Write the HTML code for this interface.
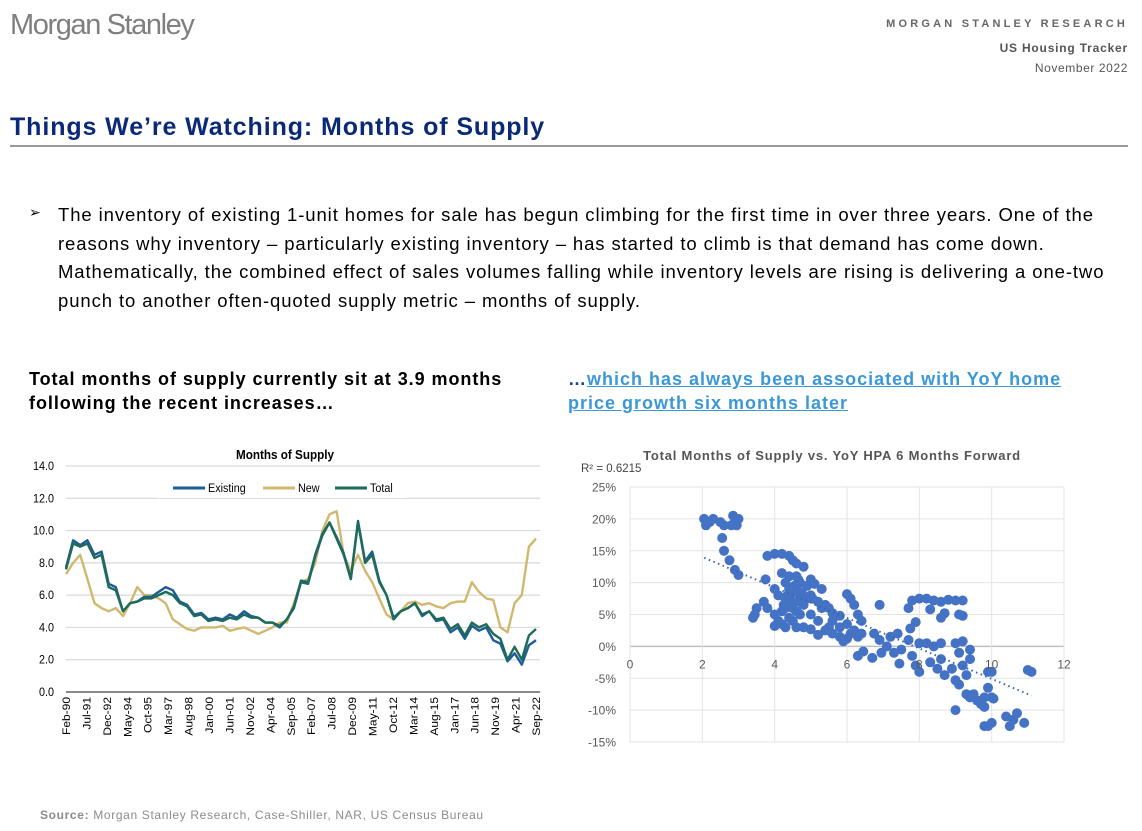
<!DOCTYPE html>
<html><head><meta charset="utf-8">
<style>
body{margin:0;width:1142px;height:831px;background:#fff;position:relative;overflow:hidden;font-family:"Liberation Sans",sans-serif;}
.abs{position:absolute;}
</style></head>
<body>
<div class="abs" style="left:10px;top:9px;font-size:29px;color:#7f7f7f;letter-spacing:-1.4px;">Morgan Stanley</div>
<div class="abs" style="right:14px;top:18px;font-size:11px;font-weight:bold;color:#666;letter-spacing:3.2px;">MORGAN STANLEY RESEARCH</div>
<div class="abs" style="right:14px;top:41px;font-size:12px;font-weight:bold;color:#555;letter-spacing:0.8px;">US Housing Tracker</div>
<div class="abs" style="right:14px;top:61px;font-size:12px;color:#555;letter-spacing:0.6px;">November 2022</div>
<div class="abs" style="left:10px;top:113px;font-size:25px;font-weight:bold;color:#0a2a78;letter-spacing:0.9px;">Things We’re Watching: Months of Supply</div>
<div class="abs" style="left:10px;top:145px;width:1118px;height:2px;background:#999;"></div>
<div class="abs" style="left:29px;top:204px;font-size:14px;color:#000;">➢</div>
<div class="abs" style="left:58px;top:201px;width:1080px;white-space:nowrap;font-size:18.5px;letter-spacing:0.9px;line-height:28.6px;color:#000;">The inventory of existing 1-unit homes for sale has begun climbing for the first time in over three years. One of the<br>reasons why inventory – particularly existing inventory – has started to climb is that demand has come down.<br>Mathematically, the combined effect of sales volumes falling while inventory levels are rising is delivering a one-two<br>punch to another often-quoted supply metric – months of supply.</div>
<div class="abs" style="left:29px;top:367px;font-size:18px;font-weight:bold;line-height:24px;color:#000;letter-spacing:0.95px;">Total months of supply currently sit at 3.9 months<br>following the recent increases…</div>
<div class="abs" style="left:568px;top:367px;font-size:18px;font-weight:bold;line-height:24px;color:#3a98d8;letter-spacing:1px;"><span style="color:#1f3f8f">…</span><u>which has always been associated with YoY home<br>price growth six months later</u></div>
<div class="abs" style="left:40px;top:808px;font-size:12px;color:#8c8c8c;letter-spacing:0.65px;"><b>Source:</b> Morgan Stanley Research, Case-Shiller, NAR, US Census Bureau</div>

<svg class="abs" style="left:0;top:0" width="1142" height="831" id="charts">
<g id="left"></g>
<g id="right"></g>
</svg>

<script>
const NS="http://www.w3.org/2000/svg";
// ---- Left chart data (semiannual samples, Feb-90 .. Sep-22) ----
const total=[7.6,9.2,9.0,9.2,8.3,8.5,6.5,6.3,5.0,5.5,5.6,5.8,5.8,6.0,6.2,6.0,5.5,5.3,4.7,4.8,4.4,4.5,4.4,4.6,4.5,4.8,4.6,4.6,4.3,4.3,4.1,4.5,5.3,6.9,6.8,8.5,9.8,10.5,9.5,8.5,7.0,10.5,8.0,8.5,6.8,6.0,4.5,5.0,5.2,5.5,4.8,5.0,4.5,4.6,3.9,4.2,3.5,4.3,4.0,4.2,3.6,3.3,2.0,2.8,2.0,3.5,3.9];
const existing=[7.7,9.4,9.1,9.4,8.5,8.7,6.7,6.5,5.0,5.5,5.6,5.9,5.9,6.2,6.5,6.3,5.6,5.4,4.8,4.9,4.5,4.6,4.5,4.8,4.6,5.0,4.7,4.6,4.3,4.3,4.0,4.5,5.2,6.8,6.7,8.4,9.7,10.5,9.6,8.6,7.0,10.6,8.1,8.7,6.9,6.0,4.6,5.0,5.2,5.5,4.7,5.0,4.4,4.5,3.7,4.0,3.3,4.1,3.8,4.0,3.2,3.0,1.9,2.4,1.7,2.9,3.2];
const newHomes=[7.3,8.0,8.5,7.0,5.5,5.2,5.0,5.2,4.7,5.5,6.5,6.0,6.0,5.8,5.5,4.5,4.2,3.9,3.8,4.0,4.0,4.0,4.1,3.8,3.9,4.0,3.8,3.6,3.8,4.0,4.3,4.3,5.5,6.8,7.0,8.0,10.0,11.0,11.2,8.5,7.5,8.5,7.5,6.8,5.8,4.8,4.5,5.0,5.5,5.6,5.4,5.5,5.3,5.2,5.5,5.6,5.6,6.8,6.2,5.8,5.7,4.0,3.7,5.5,6.0,9.0,9.5];
const xLabels=["Feb-90","Jul-91","Dec-92","May-94","Oct-95","Mar-97","Aug-98","Jan-00","Jun-01","Nov-02","Apr-04","Sep-05","Feb-07","Jul-08","Dec-09","May-11","Oct-12","Mar-14","Aug-15","Jan-17","Jun-18","Nov-19","Apr-21","Sep-22"];
const yTicks=[0,2,4,6,8,10,12,14];
// ---- Right chart data ----
const supply=[2.05,2.1,2.2,2.3,2.5,2.6,2.8,2.85,2.9,3.0,2.95,2.55,2.6,2.75,2.9,3.0,3.4,3.5,3.45,3.7,3.8,3.75,3.8,4.0,4.2,4.4,4.5,4.6,4.2,4.8,4.0,4.1,4.3,4.4,4.6,4.7,4.5,4.3,4.0,4.1,4.0,4.2,4.4,4.6,4.8,4.9,5.0,5.1,5.3,4.8,4.7,5.0,5.2,5.4,5.5,5.6,5.8,5.0,5.2,5.4,5.6,5.8,6.0,6.0,6.2,6.3,6.0,6.1,6.2,6.3,6.4,6.4,6.3,6.45,6.7,6.75,6.9,6.9,6.95,7.1,7.2,7.3,7.4,7.45,7.5,7.7,7.7,7.75,7.8,8.0,8.2,8.4,8.6,8.8,9.0,9.2,7.9,8.3,8.6,8.7,9.1,9.2,7.8,7.9,8.0,8.0,8.2,8.4,8.6,8.6,8.3,8.5,8.7,8.9,9.0,9.0,9.1,9.1,9.2,9.2,9.3,9.3,9.4,9.5,9.6,9.7,9.8,9.0,9.4,9.4,9.9,9.9,10.0,9.8,10.0,10.05,9.8,9.9,10.0,10.4,10.5,10.6,10.7,10.9,11.0,11.1,4.3,4.5,4.7,4.9,4.2,4.5,4.6,4.3,4.5,4.4,4.6,4.7,5.0,5.2,5.6,5.8,5.5,6.1,5.9,4.35,4.55,4.65,4.25,4.75,5.05,5.3];
const hpa=[20,19,19.5,20,19.5,19,19,20.5,19.5,20,19,17,15,13.5,12,11.2,4.5,6,5,7,6,10.5,14.2,14.5,14.5,14.2,13.5,13,11.5,12.5,9,8,10,9,9.5,8,7,6,5,4,3.2,3.5,4.5,5.5,6.5,9.5,10.5,9.8,9,3,5,5,4,6.5,6,5.2,4.8,2.7,1.8,2.5,2,1.5,1.2,3.5,2.5,1.5,8.2,7.5,6.5,5,4,2,-1.5,-0.8,-1.8,2,6.5,1,-1,0,1.5,-1,2,-2.7,-0.5,1,6,2.8,7.2,7.5,7.5,7.2,7,7.3,7.2,7.2,3.8,5.8,4.5,5.2,5,4.8,-1.5,-3,-4,0.5,0.5,0,0.5,-2,-2.5,-3.5,-4.5,-3.5,-5.3,0.5,-1,-6,-3,0.8,-4.5,-7.5,-8,-7.5,-8.5,-9,-9.5,-10,-0.5,-2,-6.5,-4,-4,-8,-8,-8.2,-12.5,-12.5,-12,-11,-12.5,-11.5,-10.5,-12,-3.7,-4,7.5,8.5,7,7.5,5.5,4,3,3,6,11,11,10,8,7,4,3,3,2,0.8,8,9.5,10.5,6.5,8.5,7.5,6];
const sxTicks=[0,2,4,6,8,10,12];
const syTicks=[-15,-10,-5,0,5,10,15,20,25];
const trendEnds=[2.05,11.1];
const trendSlope=-2.39, trendIntercept=18.8;

function el(tag,attrs,parent,text){const e=document.createElementNS(NS,tag);for(const k in attrs)e.setAttribute(k,attrs[k]);if(text!==undefined)e.textContent=text;parent.appendChild(e);return e;}

// ---- Left chart ----
const L=document.getElementById('left');
const lx0=66,lx1=536,ly0=692,ly1=466;
const t0=1990+1/12,t1=2022+8/12;
const xT=t=>lx0+(t-t0)/(t1-t0)*(lx1-lx0);
const yL=v=>ly0-v/14*(ly0-ly1);
const dateAt=i=>t0+i*(t1-t0)/(total.length-1);
let t=el('text',{x:285,y:459,'text-anchor':'middle','font-size':13,'font-weight':'bold',fill:'#000',transform:'translate(285,0) scale(0.9,1) translate(-285,0)'},L,'Months of Supply');


yTicks.forEach(v=>{
  if(v>0){const g=el('line',{x1:lx0,x2:lx1+4,y1:yL(v),y2:yL(v),stroke:'#d9d9d9','stroke-width':1.2},L);
  
  }
  const tx=el('text',{x:0,y:0,transform:`translate(54,${yL(v)+4}) scale(0.9,1)`,'text-anchor':'end','font-size':12,fill:'#000'},L,v.toFixed(1));
  
  
});
const ax=el('line',{x1:lx0,x2:lx1+4,y1:ly0,y2:ly0,stroke:'#888','stroke-width':2},L);


xLabels.forEach((lab,i)=>{
  const tt=t0+i*17/12;
  const x=xT(tt);
  const tx=el('text',{x:0,y:0,transform:`translate(${x+4},${ly0+5}) rotate(-90) scale(1,0.9)`,'text-anchor':'end','font-size':12,fill:'#000'},L,lab);
  
  
});
const lb=el('rect',{x:157,y:478,width:250,height:20,fill:'#fff'},L);


function series(arr,color,name){
  const p=arr.map((v,i)=>(i?'L':'M')+xT(dateAt(i)).toFixed(1)+','+yL(v).toFixed(1)).join('');
  const s=el('path',{d:p,fill:'none',stroke:color,'stroke-width':2.4,'stroke-linejoin':'round'},L);
  
  
}
series(newHomes,'#d1b86f','series-new');
series(existing,'#1d5c9a','series-existing');
series(total,'#1e6b58','series-total');
[['Existing','#1d5c9a',173],['New','#d1b86f',263],['Total','#1e6b58',335]].forEach(([n,c,x])=>{
  const ln=el('line',{x1:x,x2:x+32,y1:488,y2:488,stroke:c,'stroke-width':3},L);
  
  
  const lt=el('text',{x:0,y:0,transform:`translate(${x+35},492) scale(0.9,1)`,'font-size':12,fill:'#000'},L,n);
  
  
});

// ---- Right chart ----
const R=document.getElementById('right');
const rx0=630,rx1=1064,ry0=742,ry1=487;
const xS=v=>rx0+v/12*(rx1-rx0);
const yS=v=>ry0-(v+15)/40*(ry0-ry1);
t=el('text',{x:832,y:460,'text-anchor':'middle','font-size':13,'font-weight':'bold',fill:'#555','letter-spacing':0.8},R,'Total Months of Supply vs. YoY HPA 6 Months Forward');


t=el('text',{x:581,y:472,'font-size':11.5,fill:'#444'},R,'R² = 0.6215');


syTicks.forEach(v=>{
  const g=el('line',{x1:rx0,x2:rx1,y1:yS(v),y2:yS(v),stroke:v===0?'#bfbfbf':'#e3e3e3','stroke-width':v===0?1.5:1},R);
  
  
  const tx=el('text',{x:616,y:yS(v)+4.5,'text-anchor':'end','font-size':12,fill:'#595959'},R,v+'%');
  
  
});
sxTicks.forEach(v=>{
  const g=el('line',{x1:xS(v),x2:xS(v),y1:ry1,y2:ry0,stroke:'#e3e3e3','stroke-width':1},R);
  
  
});
supply.forEach((v,i)=>{
  const c=el('circle',{cx:xS(v).toFixed(1),cy:yS(hpa[i]).toFixed(1),r:5,fill:'#4472c4'},R);
  
  
});
const tr=el('line',{x1:xS(trendEnds[0]),y1:yS(trendIntercept+trendSlope*trendEnds[0]),x2:xS(trendEnds[1]),y2:yS(trendIntercept+trendSlope*trendEnds[1]),stroke:'#3b64ad','stroke-width':2,'stroke-dasharray':'1.5,3.5'},R);


sxTicks.forEach(v=>{
  const tx=el('text',{x:xS(v),y:yS(0)+22,'text-anchor':'middle','font-size':12,fill:'#595959'},R,String(v));
  
  
});
</script>
</body></html>
